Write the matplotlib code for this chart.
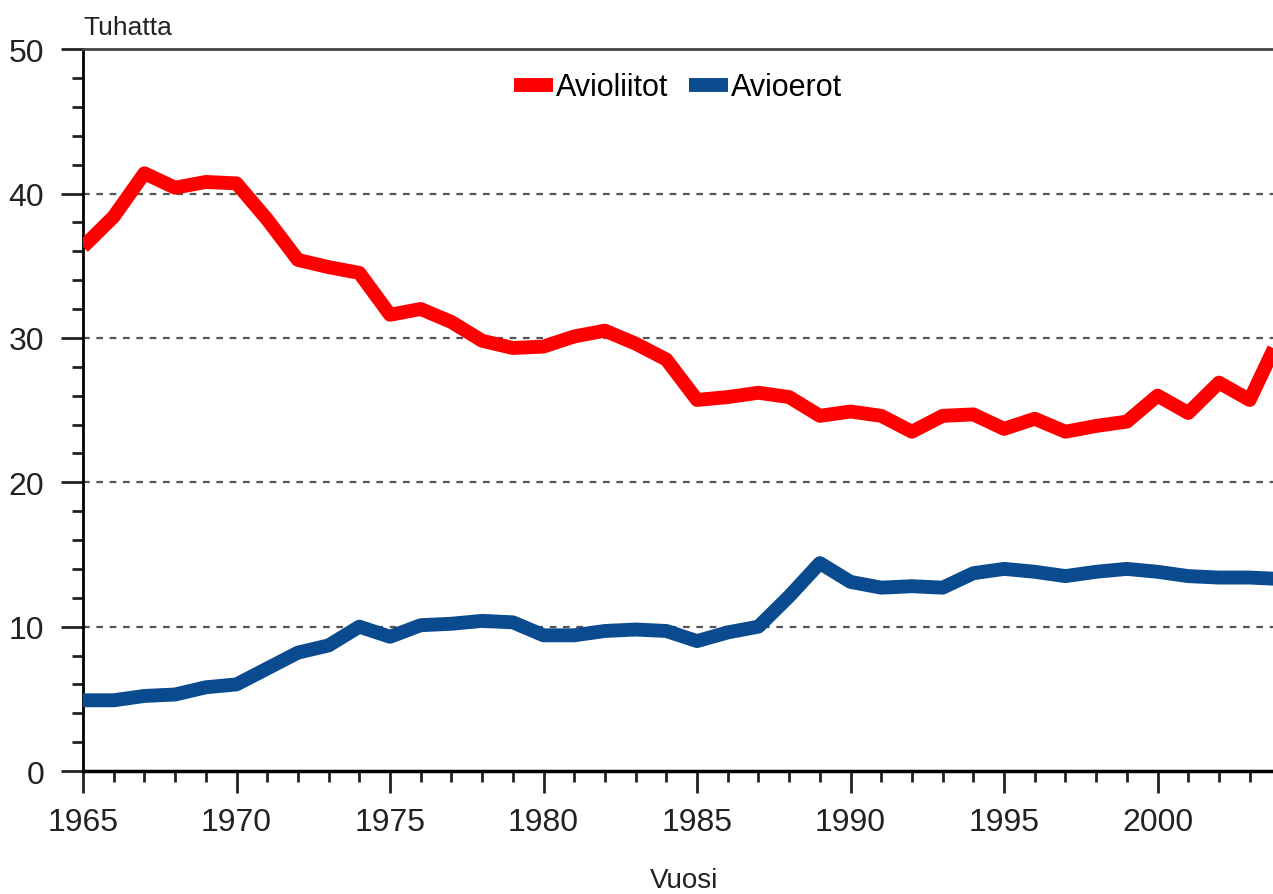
import matplotlib
matplotlib.use('Agg')
import matplotlib.pyplot as plt
from matplotlib.ticker import MultipleLocator

plt.rcParams['font.family'] = ['Liberation Sans', 'DejaVu Sans']

# marriages and divorces in Finland, thousands
years = list(range(1965, 2005))
avioliitot = [36.3, 38.4, 41.4, 40.4, 40.8, 40.7, 38.2, 35.4, 34.9, 34.5,
              31.6, 32.0, 31.1, 29.8, 29.3, 29.4, 30.1, 30.5, 29.6, 28.5,
              25.7, 25.9, 26.2, 25.9, 24.6, 24.9, 24.6, 23.5, 24.6, 24.7,
              23.7, 24.4, 23.5, 23.9, 24.2, 26.0, 24.8, 26.9, 25.7, 30.2]
avioerot = [4.9, 4.9, 5.2, 5.3, 5.8, 6.0, 7.1, 8.2, 8.7, 10.0,
            9.3, 10.1, 10.2, 10.4, 10.3, 9.4, 9.4, 9.7, 9.8, 9.7,
            9.0, 9.6, 10.0, 12.1, 14.4, 13.1, 12.7, 12.8, 12.7, 13.7,
            14.0, 13.8, 13.5, 13.8, 14.0, 13.8, 13.5, 13.4, 13.4, 13.3]
series_names = ['Avioliitot', 'Avioerot']

fig = plt.figure(figsize=(12.73, 8.95), dpi=100)
ax = fig.add_axes([0.0652, 0.1374, 0.9348, 0.8066])

ax.plot(years, avioliitot, color='#ff0000', lw=10, solid_capstyle='butt',
        solid_joinstyle='round', label=series_names[0], zorder=3)
ax.plot(years, avioerot, color='#0a4a8e', lw=10, solid_capstyle='butt',
        solid_joinstyle='round', label=series_names[1], zorder=3)

ax.set_xlim(1965, 2003.76)
ax.set_ylim(0, 50)

ax.xaxis.set_major_locator(MultipleLocator(5))
ax.xaxis.set_minor_locator(MultipleLocator(1))
ax.yaxis.set_major_locator(MultipleLocator(10))
ax.yaxis.set_minor_locator(MultipleLocator(2))

ax.tick_params(axis='both', which='major', labelsize=23, colors='#222222',
               width=2, length=16)
ax.tick_params(axis='both', which='minor', width=2, length=8, colors='#222222')
ax.tick_params(axis='x', which='major', pad=10)
ax.tick_params(axis='y', which='major', pad=12)

for y in [10, 20, 30, 40]:
    ax.axhline(y, color='#555555', lw=1.6, ls=(0, (3, 3)), zorder=1)

ax.spines['right'].set_visible(False)
ax.spines['left'].set_linewidth(2)
ax.spines['bottom'].set_linewidth(2.5)
ax.spines['top'].set_linewidth(2)
ax.spines['top'].set_color('#444444')

leg = ax.legend(loc='center', bbox_to_anchor=(0.5, 0.947), ncol=2,
                frameon=False, fontsize=22, handlelength=1.3,
                handletextpad=0.1, columnspacing=0.65)

fig.text(83 / 1273, 1 - 28 / 895, 'Tuhatta', fontsize=19, color='#222222',
         ha='left', va='center')
fig.text(684 / 1273, 1 - 881 / 895, 'Vuosi', fontsize=20, color='#222222',
         ha='center', va='center')

fig.savefig('out.png', dpi=100)
